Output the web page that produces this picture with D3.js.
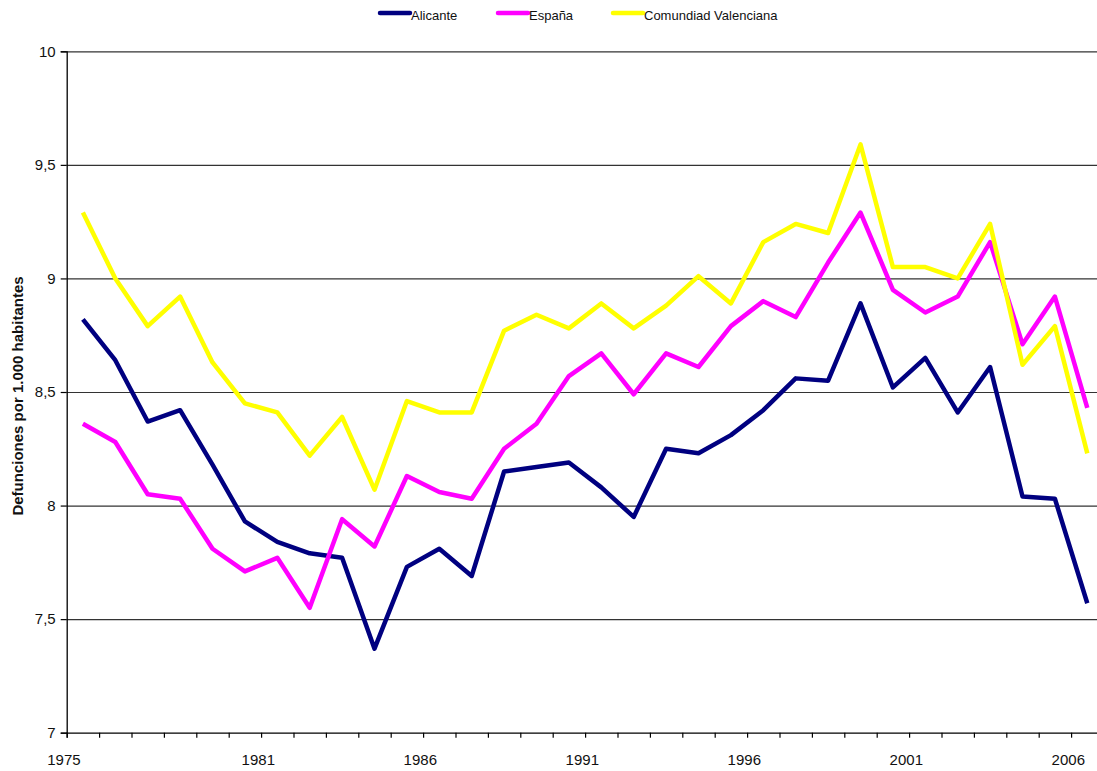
<!DOCTYPE html>
<html>
<head>
<meta charset="utf-8">
<script src="https://cdn.jsdelivr.net/npm/d3@7/dist/d3.min.js"></script>
<style>
  html, body { margin: 0; padding: 0; background: #fff; overflow: hidden; }
  svg { display: block; font-family: "Liberation Sans", Arial, sans-serif; }
</style>
</head>
<body>
<svg id="chart" width="1097" height="771"></svg>
<script>
const years = d3.range(1975, 2007);
const labelYears = [1975, 1981, 1986, 1991, 1996, 2001, 2006];
const yTicks = [7, 7.5, 8, 8.5, 9, 9.5, 10];

const alicante = [8.82, 8.64, 8.37, 8.42, 8.18, 7.93, 7.84, 7.79, 7.77, 7.37, 7.73, 7.81, 7.69, 8.15, 8.17, 8.19,
                  8.08, 7.95, 8.25, 8.23, 8.31, 8.42, 8.56, 8.55, 8.89, 8.52, 8.65, 8.41, 8.61, 8.04, 8.03, 7.57];
const espana = [8.36, 8.28, 8.05, 8.03, 7.81, 7.71, 7.77, 7.55, 7.94, 7.82, 8.13, 8.06, 8.03, 8.25, 8.36, 8.57,
                8.67, 8.49, 8.67, 8.61, 8.79, 8.90, 8.83, 9.07, 9.29, 8.95, 8.85, 8.92, 9.16, 8.71, 8.92, 8.43];
const valenciana = [9.29, 9.00, 8.79, 8.92, 8.63, 8.45, 8.41, 8.22, 8.39, 8.07, 8.46, 8.41, 8.41, 8.77, 8.84, 8.78,
                    8.89, 8.78, 8.88, 9.01, 8.89, 9.16, 9.24, 9.20, 9.59, 9.05, 9.05, 9.00, 9.24, 8.62, 8.79, 8.23];

const seriesNames = ["Alicante", "España", "Comundiad Valenciana"];
const seriesColors = ["#000080", "#ff00ff", "#ffff00"];
const seriesData = [alicante, espana, valenciana];

(function () {
  const svg = d3.select("#chart");
  const plotLeft = 66.7, plotTop = 51.3, plotBottom = 732.7;
  const band = 32.4;
  const plotRight = plotLeft + band * years.length;

  const x = d3.scaleLinear().domain([1975, 2007]).range([plotLeft, plotRight]);
  const y = d3.scaleLinear().domain([7, 10]).range([plotBottom, plotTop]);

  // gridlines
  svg.append("g")
    .attr("transform", `translate(${plotLeft},0)`)
    .call(d3.axisLeft(y).tickValues(yTicks.filter(v => v > 7)).tickSize(-(plotRight - plotLeft)).tickFormat(""))
    .call(g => g.select(".domain").remove())
    .call(g => g.selectAll("line").attr("stroke", "#333").attr("stroke-width", 1.2));

  // y axis
  const yAxis = svg.append("g")
    .attr("transform", `translate(${plotLeft},0)`)
    .call(d3.axisLeft(y).tickValues(yTicks).tickSize(6).tickPadding(5)
          .tickFormat(d => String(d).replace(".", ",")));
  yAxis.select(".domain").attr("stroke", "#000").attr("stroke-width", 1.3);
  yAxis.selectAll("line").attr("stroke", "#000").attr("stroke-width", 1.2);
  yAxis.selectAll("text").attr("font-size", 15).attr("fill", "#111")
    .attr("font-family", "Liberation Sans, Arial, sans-serif");

  // x axis
  const xAxis = svg.append("g")
    .attr("transform", `translate(0,${plotBottom})`)
    .call(d3.axisBottom(x).tickValues(d3.range(1975, 2008)).tickSize(5).tickPadding(17)
          .tickFormat(d => labelYears.includes(d) ? String(d) : ""));
  xAxis.select(".domain").attr("stroke", "#000").attr("stroke-width", 1.3);
  xAxis.selectAll("line").attr("stroke", "#000").attr("stroke-width", 1.2);
  xAxis.selectAll("text").attr("font-size", 15).attr("fill", "#111").attr("dx", -3.3)
    .attr("font-family", "Liberation Sans, Arial, sans-serif");

  // lines
  const line = d3.line()
    .x((d, i) => x(years[i] + 0.5))
    .y(d => y(d));

  seriesData.forEach((data, k) => {
    svg.append("path")
      .datum(data)
      .attr("fill", "none")
      .attr("stroke", seriesColors[k])
      .attr("stroke-width", 4.5)
      .attr("stroke-linejoin", "round")
      .attr("d", line);
  });

  // y title
  svg.append("text")
    .attr("transform", "translate(23,396) rotate(-90)")
    .attr("text-anchor", "middle")
    .attr("font-size", 15)
    .attr("font-weight", "bold")
    .attr("fill", "#111")
    .text("Defunciones por 1.000 habitantes");

  // legend
  const legendX = [380, 498, 613];
  const legend = svg.append("g");
  seriesNames.forEach((name, k) => {
    legend.append("line")
      .attr("x1", legendX[k]).attr("x2", legendX[k] + 30)
      .attr("y1", 13).attr("y2", 13)
      .attr("stroke", seriesColors[k]).attr("stroke-width", 4.5)
      .attr("stroke-linecap", "round");
    legend.append("text")
      .attr("x", legendX[k] + 31).attr("y", 20)
      .attr("font-size", 13).attr("fill", "#111")
      .text(name);
  });
})();
</script>
</body>
</html>
